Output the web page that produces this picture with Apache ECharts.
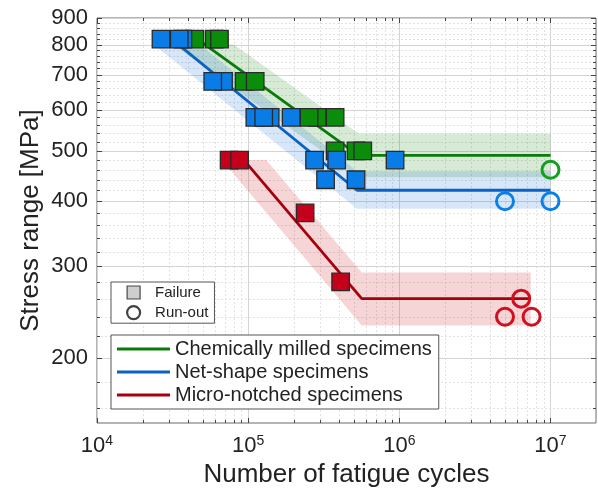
<!DOCTYPE html>
<html>
<head>
<meta charset="utf-8">
<title>S-N curves</title>
<script src="https://cdn.jsdelivr.net/npm/echarts@6/dist/echarts.min.js"></script>
<style>
  html, body { margin: 0; padding: 0; background: #fff; }
  #chart { width: 598px; height: 494px; }
</style>
</head>
<body>
<div id="chart"></div>
<script>
// Fatigue results: stress range vs. number of cycles (log-log)

// ---- axis ticks ----
const xMajorTicks = [1e4, 1e5, 1e6, 1e7];
const xMinorTicks = [2e4, 3e4, 4e4, 5e4, 6e4, 7e4, 8e4, 9e4,
                     2e5, 3e5, 4e5, 5e5, 6e5, 7e5, 8e5, 9e5,
                     2e6, 3e6, 4e6, 5e6, 6e6, 7e6, 8e6, 9e6];
const yMajorTicks = [200, 300, 400, 500, 600, 700, 800, 900];
const yMinorTicks = [160, 180, 220, 240, 260, 280, 320, 340, 360, 380,
                     420, 440, 460, 480, 520, 540, 560, 580, 620, 640, 660, 680,
                     720, 740, 760, 780, 820, 840, 860, 880];

// ---- test results [cycles, stress range MPa] ----
const chemFailure = [[4.44e4, 820], [5.96e4, 820], [6.46e4, 820],
                     [9.41e4, 680], [1.113e5, 680],
                     [2.86e5, 580], [2.53e5, 580], [3.76e5, 580],
                     [3.76e5, 500], [5.17e5, 500], [5.73e5, 500]];
const chemRunout  = [[1e7, 460]];

const netFailure  = [[3.7e4, 820], [2.65e4, 820], [3.5e4, 820],
                     [6.87e4, 680], [5.83e4, 680],
                     [1.107e5, 580], [1.398e5, 580], [1.267e5, 580], [1.924e5, 580],
                     [2.75e5, 480], [3.85e5, 480], [9.37e5, 480],
                     [3.25e5, 440], [5.17e5, 440]];
const netRunout   = [[5e6, 400], [1e7, 400]];

const microFailure = [[7.48e4, 480], [8.78e4, 480], [2.38e5, 380], [4.09e5, 280]];
const microRunout  = [[6.4e6, 260], [5e6, 240], [7.5e6, 240]];

// ---- fitted S-N curves (sloped part + fatigue limit) ----
const chemCurve  = [[4.62e4, 820], [5.37e5, 490], [1e7, 490]];
const netCurve   = [[3.12e4, 820], [5.25e5, 420], [1e7, 420]];
const microCurve = [[9.38e4, 480], [5.64e5, 260], [7.4e6, 260]];

// ---- scatter bands around the curves (polygon outlines) ----
const chemBand  = [[3.19e4, 800], [5.37e5, 445], [1e7, 445], [1e7, 540], [5.37e5, 540], [8.05e4, 800]];
const netBand   = [[2.37e4, 800], [5.25e5, 387], [1e7, 387], [1e7, 457], [5.25e5, 457], [4.78e4, 800]];
const microBand = [[6.7e4, 480], [5.64e5, 231], [7.4e6, 231], [7.4e6, 292], [5.64e5, 292], [1.317e5, 480]];

const NAME_CHEM  = 'Chemically milled specimens';
const NAME_NET   = 'Net-shape specimens';
const NAME_MICRO = 'Micro-notched specimens';

const FONT = "'Liberation Sans', Arial, Helvetica, sans-serif";
const TEXT = '#222';

const COLORS = {
  chem:  { fill: '#0b8c0b', line: '#0a7a0a', ring: '#14a01e', band: 'rgba(0,125,0,0.16)' },
  net:   { fill: '#0a7ce6', line: '#0a62c4', ring: '#0a80e6', band: 'rgba(10,100,215,0.16)' },
  micro: { fill: '#c4001a', line: '#a6000e', ring: '#d0101e', band: 'rgba(205,30,45,0.19)' }
};

const chart = echarts.init(document.getElementById('chart'), null, { renderer: 'canvas' });

function crisp(v) { return Math.round(v) + 0.5; }

function bandSeries(name, pts, color) {
  return {
    type: 'custom', name: name, silent: true, z: 1,
    data: [pts[0]],
    renderItem: function (params, api) {
      return {
        type: 'polygon',
        shape: { points: pts.map(function (p) { return api.coord(p); }) },
        style: { fill: color }
      };
    }
  };
}

function failureSeries(data, color) {
  return {
    type: 'scatter', data: data, symbol: 'rect', symbolSize: 17.5, z: 4, silent: true,
    itemStyle: { color: color, borderColor: '#2a2a2a', borderWidth: 1.3, opacity: 1 }
  };
}

function runoutSeries(data, color) {
  return {
    type: 'scatter', data: data, symbol: 'circle', symbolSize: 17, z: 5, silent: true,
    itemStyle: { color: 'rgba(0,0,0,0)', borderColor: color, borderWidth: 3, opacity: 1 }
  };
}

function curveSeries(name, data, color) {
  return {
    type: 'line', name: name, data: data, symbol: 'none', z: 3, silent: true,
    lineStyle: { color: color, width: 2.8 }, itemStyle: { color: color }
  };
}

// horizontal grid lines
const yGridSeries = {
  type: 'custom', silent: true, z: 0,
  data: yMajorTicks.concat(yMinorTicks).map(function (v) { return [1e5, v]; }),
  renderItem: function (params, api) {
    const cs = params.coordSys;
    const v = api.value(1);
    const y = crisp(api.coord([1e5, v])[1]);
    const major = yMajorTicks.indexOf(v) >= 0;
    return {
      type: 'line',
      shape: { x1: cs.x, y1: y, x2: cs.x + cs.width, y2: y },
      style: { stroke: major ? '#d4d4d4' : '#e2e2e2', lineWidth: 1, lineDash: major ? null : [2, 2] }
    };
  }
};

// vertical grid lines
const xGridSeries = {
  type: 'custom', silent: true, z: 0,
  data: xMajorTicks.concat(xMinorTicks).map(function (v) { return [v, 300]; }),
  renderItem: function (params, api) {
    const cs = params.coordSys;
    const v = api.value(0);
    const x = crisp(api.coord([v, 300])[0]);
    const major = xMajorTicks.indexOf(v) >= 0;
    return {
      type: 'line',
      shape: { x1: x, y1: cs.y, x2: x, y2: cs.y + cs.height },
      style: { stroke: major ? '#d4d4d4' : '#e2e2e2', lineWidth: 1, lineDash: major ? null : [2, 2] }
    };
  }
};

// inward ticks on the left and right edges
const yTickSeries = {
  type: 'custom', silent: true, z: 6,
  data: yMajorTicks.concat(yMinorTicks).map(function (v) { return [1e5, v]; }),
  renderItem: function (params, api) {
    const cs = params.coordSys;
    const v = api.value(1);
    const y = crisp(api.coord([1e5, v])[1]);
    const len = yMajorTicks.indexOf(v) >= 0 ? 5 : 3;
    const st = { stroke: '#444', lineWidth: 1 };
    return {
      type: 'group',
      children: [
        { type: 'line', shape: { x1: cs.x, y1: y, x2: cs.x + len, y2: y }, style: st },
        { type: 'line', shape: { x1: cs.x + cs.width - len, y1: y, x2: cs.x + cs.width, y2: y }, style: st }
      ]
    };
  }
};

// inward ticks on the bottom and top edges
const xTickSeries = {
  type: 'custom', silent: true, z: 6,
  data: xMajorTicks.concat(xMinorTicks).map(function (v) { return [v, 300]; }),
  renderItem: function (params, api) {
    const cs = params.coordSys;
    const v = api.value(0);
    const x = crisp(api.coord([v, 300])[0]);
    const len = xMajorTicks.indexOf(v) >= 0 ? 5 : 3;
    const st = { stroke: '#444', lineWidth: 1 };
    const yb = cs.y + cs.height;
    return {
      type: 'group',
      children: [
        { type: 'line', shape: { x1: x, y1: yb - len, x2: x, y2: yb }, style: st },
        { type: 'line', shape: { x1: x, y1: cs.y, x2: x, y2: cs.y + len }, style: st }
      ]
    };
  }
};

// stress tick labels
const yLabelSeries = {
  type: 'custom', silent: true, z: 6,
  data: yMajorTicks.map(function (v) { return [1e5, v]; }),
  renderItem: function (params, api) {
    const cs = params.coordSys;
    const v = api.value(1);
    const y = api.coord([1e5, v])[1];
    return {
      type: 'text',
      style: {
        text: String(v), x: cs.x - 9, y: y,
        align: 'right', verticalAlign: 'middle',
        fontSize: 22, fontFamily: FONT, fill: TEXT
      }
    };
  }
};

const option = {
  backgroundColor: '#fff',
  animation: false,
  textStyle: { fontFamily: FONT },
  grid: {
    left: 97, top: 18, width: 499, height: 405,
    show: true, borderColor: '#6a6a6a', borderWidth: 1, backgroundColor: 'transparent',
    containLabel: false, outerBoundsMode: 'none'
  },
  xAxis: {
    type: 'log', logBase: 10, min: 1e4, max: 2e7,
    name: 'Number of fatigue cycles', nameLocation: 'middle', nameGap: 37,
    nameTextStyle: { fontSize: 26, color: TEXT, fontFamily: FONT },
    axisLine: { show: false }, axisTick: { show: false }, splitLine: { show: false },
    axisLabel: {
      margin: 11,
      showMaxLabel: false,
      formatter: function (v) {
        const lg = Math.log10(v);
        const e = Math.round(lg);
        if (Math.abs(lg - e) > 1e-6) return '';
        return '{b|10}{s|' + e + '}';
      },
      rich: {
        b: { fontSize: 22, fontFamily: FONT, color: TEXT, lineHeight: 24 },
        s: { fontSize: 14, fontFamily: FONT, color: TEXT, lineHeight: 14, verticalAlign: 'top' }
      }
    }
  },
  yAxis: {
    type: 'log', logBase: 10, min: 150, max: 900,
    name: 'Stress range [MPa]', nameLocation: 'middle', nameGap: 53, nameRotate: 90,
    nameTextStyle: { fontSize: 26, color: TEXT, fontFamily: FONT },
    axisLine: { show: false }, axisTick: { show: false }, splitLine: { show: false },
    axisLabel: { show: false }
  },
  legend: [
    {
      left: 111, top: 282, orient: 'vertical', z: 10,
      selectedMode: false,
      itemWidth: 13, itemHeight: 13, itemGap: 5,
      padding: [3, 6, 3, 15],
      borderColor: '#555', borderWidth: 1, backgroundColor: '#fff',
      textStyle: { fontSize: 15, color: TEXT, fontFamily: FONT, padding: [0, 0, 0, 10] },
      data: [
        { name: 'Failure', icon: 'rect', itemStyle: { color: '#c2c2c2', borderColor: '#222', borderWidth: 1.2 } },
        { name: 'Run-out', icon: 'circle', itemStyle: { color: 'rgba(0,0,0,0)', borderColor: '#111', borderWidth: 2.2 } }
      ]
    },
    {
      left: 111, top: 335, orient: 'vertical', z: 10,
      selectedMode: false,
      itemWidth: 53, itemHeight: 3, itemGap: 3,
      padding: [4, 7, 4, 6],
      borderColor: '#555', borderWidth: 1, backgroundColor: '#fff',
      textStyle: { fontSize: 20, color: TEXT, fontFamily: FONT },
      data: [
        { name: NAME_CHEM, icon: 'rect', itemStyle: { color: COLORS.chem.line, borderWidth: 0 } },
        { name: NAME_NET, icon: 'rect', itemStyle: { color: COLORS.net.line, borderWidth: 0 } },
        { name: NAME_MICRO, icon: 'rect', itemStyle: { color: COLORS.micro.line, borderWidth: 0 } }
      ]
    }
  ],
  series: [
    xGridSeries,
    yGridSeries,
    bandSeries('chem band', chemBand, COLORS.chem.band),
    bandSeries('net band', netBand, COLORS.net.band),
    bandSeries('micro band', microBand, COLORS.micro.band),
    curveSeries(NAME_CHEM, chemCurve, COLORS.chem.line),
    curveSeries(NAME_NET, netCurve, COLORS.net.line),
    curveSeries(NAME_MICRO, microCurve, COLORS.micro.line),
    failureSeries(chemFailure, COLORS.chem.fill),
    failureSeries(netFailure, COLORS.net.fill),
    failureSeries(microFailure, COLORS.micro.fill),
    runoutSeries(chemRunout, COLORS.chem.ring),
    runoutSeries(netRunout, COLORS.net.ring),
    runoutSeries(microRunout, COLORS.micro.ring),
    { type: 'scatter', name: 'Failure', data: [], symbol: 'rect' },
    { type: 'scatter', name: 'Run-out', data: [], symbol: 'circle' },
    xTickSeries,
    yTickSeries,
    yLabelSeries
  ]
};

chart.setOption(option);
</script>
</body>
</html>
